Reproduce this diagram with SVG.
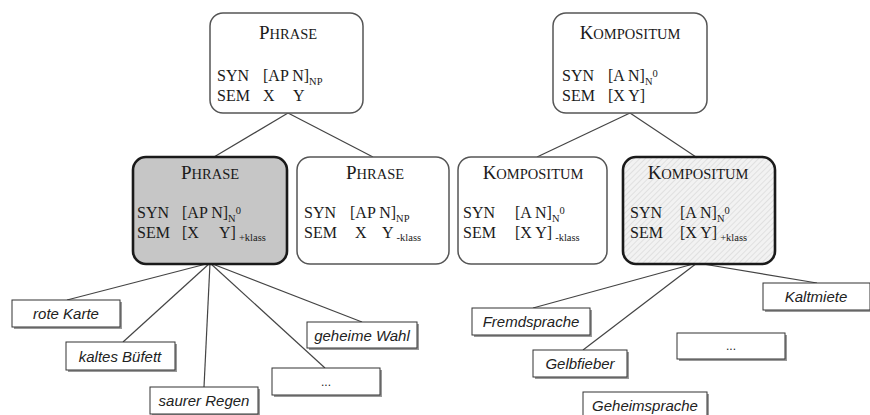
<svg xmlns="http://www.w3.org/2000/svg" width="870" height="415" viewBox="0 0 870 415">
  <style>
    .box { fill: #ffffff; stroke: #555555; stroke-width: 1.5; }
    .boxhl { stroke: #1a1a1a; stroke-width: 2.6; }
    .leaf { fill: #ffffff; stroke: #333333; stroke-width: 1; }
    .shadow { fill: #9a9a9a; }
    .t { font-family: "Liberation Serif", "Times New Roman", serif; font-size: 16px; fill: #1a1a1a; }
    .cap { font-size: 19px; }
    .sc { font-size: 14.5px; }
    .sub { font-size: 10.5px; }
    .ttl { text-anchor: middle; }
    .lt { font-family: "Liberation Sans", Arial, sans-serif; font-style: italic; font-size: 15px; fill: #222222; text-anchor: middle; }
    .dots { font-style: normal; font-size: 12px; }
    .conn { stroke: #444444; stroke-width: 1.2; fill: none; }
  </style>
  <defs>
    <pattern id="hatch" width="4" height="4" patternUnits="userSpaceOnUse" patternTransform="rotate(45)">
      <rect width="4" height="4" fill="#f2f2f2"/>
      <line x1="0" y1="0" x2="0" y2="4" stroke="#d4d4d4" stroke-width="1.2"/>
    </pattern>
  </defs>

  <g id="connectors">
    <line class="conn" x1="288" y1="113" x2="214" y2="157"/>
    <line class="conn" x1="288" y1="113" x2="373" y2="157"/>
    <line class="conn" x1="630" y1="113" x2="537" y2="157"/>
    <line class="conn" x1="630" y1="113" x2="696" y2="157"/>
    <line class="conn" x1="210" y1="263" x2="67" y2="300"/>
    <line class="conn" x1="210" y1="263" x2="123" y2="342"/>
    <line class="conn" x1="210" y1="263" x2="204" y2="387"/>
    <line class="conn" x1="210" y1="263" x2="325" y2="368"/>
    <line class="conn" x1="210" y1="263" x2="362" y2="322"/>
    <line class="conn" x1="697" y1="263" x2="533" y2="308"/>
    <line class="conn" x1="697" y1="263" x2="583" y2="350"/>
    <line class="conn" x1="697" y1="263" x2="817" y2="283"/>
  </g>

  <!-- top row -->
  <g id="phrase-top">
    <rect class="box" x="210" y="13" width="153" height="100" rx="13"/>
    <text class="t ttl" x="288" y="39"><tspan class="cap">P</tspan><tspan class="sc">HRASE</tspan></text>
    <text class="t" x="217" y="81">SYN</text>
    <text class="t" x="263" y="81">[AP N]<tspan class="sub" dy="4">NP</tspan></text>
    <text class="t" x="217" y="101">SEM</text>
    <text class="t" x="263" y="101">X</text>
    <text class="t" x="293" y="101">Y</text>
  </g>

  <g id="kompositum-top">
    <rect class="box" x="553" y="13" width="154" height="100" rx="13"/>
    <text class="t ttl" x="630" y="39"><tspan class="cap">K</tspan><tspan class="sc">OMPOSITUM</tspan></text>
    <text class="t" x="562" y="81">SYN</text>
    <text class="t" x="608" y="81">[A N]<tspan class="sub" dy="4">N</tspan><tspan class="sub" dy="-8">0</tspan></text>
    <text class="t" x="562" y="101">SEM</text>
    <text class="t" x="608" y="101">[X Y]</text>
  </g>

  <!-- middle row -->
  <g id="phrase-n0">
    <rect class="box boxhl" x="133" y="157" width="154" height="107" rx="13" style="fill:#c6c6c6"/>
    <text class="t ttl" x="210" y="179"><tspan class="cap">P</tspan><tspan class="sc">HRASE</tspan></text>
    <text class="t" x="137" y="218">SYN</text>
    <text class="t" x="182" y="218">[AP N]<tspan class="sub" dy="4">N</tspan><tspan class="sub" dy="-8">0</tspan></text>
    <text class="t" x="137" y="238">SEM</text>
    <text class="t" x="182" y="238">[X</text>
    <text class="t" x="219" y="238">Y]<tspan class="sub" dx="3" dy="3">+klass</tspan></text>
  </g>

  <g id="phrase-np">
    <rect class="box" x="297" y="157" width="152" height="107" rx="13"/>
    <text class="t ttl" x="375" y="179"><tspan class="cap">P</tspan><tspan class="sc">HRASE</tspan></text>
    <text class="t" x="304" y="218">SYN</text>
    <text class="t" x="350" y="218">[AP N]<tspan class="sub" dy="4">NP</tspan></text>
    <text class="t" x="304" y="238">SEM</text>
    <text class="t" x="355" y="238">X</text>
    <text class="t" x="382" y="238">Y<tspan class="sub" dx="3" dy="3">-klass</tspan></text>
  </g>

  <g id="kompositum-minus">
    <rect class="box" x="458" y="157" width="149" height="107" rx="13"/>
    <text class="t ttl" x="533" y="179"><tspan class="cap">K</tspan><tspan class="sc">OMPOSITUM</tspan></text>
    <text class="t" x="463" y="218">SYN</text>
    <text class="t" x="515" y="218">[A N]<tspan class="sub" dy="4">N</tspan><tspan class="sub" dy="-8">0</tspan></text>
    <text class="t" x="463" y="238">SEM</text>
    <text class="t" x="515" y="238">[X Y]<tspan class="sub" dx="3" dy="3">-klass</tspan></text>
  </g>

  <g id="kompositum-plus">
    <rect class="box boxhl" x="623" y="157" width="152" height="107" rx="13" style="fill:url(#hatch)"/>
    <text class="t ttl" x="698" y="179"><tspan class="cap">K</tspan><tspan class="sc">OMPOSITUM</tspan></text>
    <text class="t" x="630" y="218">SYN</text>
    <text class="t" x="680" y="218">[A N]<tspan class="sub" dy="4">N</tspan><tspan class="sub" dy="-8">0</tspan></text>
    <text class="t" x="630" y="238">SEM</text>
    <text class="t" x="680" y="238">[X Y]<tspan class="sub" dx="3" dy="3">+klass</tspan></text>
  </g>

  <!-- leaves, left -->
  <g id="leaf-rote-karte">
    <rect class="shadow" x="14" y="302" width="108" height="27"/>
    <rect class="leaf" x="12" y="300" width="108" height="27"/>
    <text class="lt" x="66" y="319">rote Karte</text>
  </g>
  <g id="leaf-kaltes-bufett">
    <rect class="shadow" x="68" y="344" width="109" height="28"/>
    <rect class="leaf" x="66" y="342" width="109" height="28"/>
    <text class="lt" x="120" y="362">kaltes Büfett</text>
  </g>
  <g id="leaf-saurer-regen">
    <rect class="shadow" x="152" y="389" width="108" height="27"/>
    <rect class="leaf" x="150" y="387" width="108" height="27"/>
    <text class="lt" x="204" y="406">saurer Regen</text>
  </g>
  <g id="leaf-dots-left">
    <rect class="shadow" x="274" y="370" width="108" height="27"/>
    <rect class="leaf" x="272" y="368" width="108" height="27"/>
    <text class="lt dots" x="326" y="386">...</text>
  </g>
  <g id="leaf-geheime-wahl">
    <rect class="shadow" x="309" y="324" width="110" height="26"/>
    <rect class="leaf" x="307" y="322" width="110" height="26"/>
    <text class="lt" x="362" y="341">geheime Wahl</text>
  </g>

  <!-- leaves, right -->
  <g id="leaf-fremdsprache">
    <rect class="shadow" x="474" y="310" width="118" height="27"/>
    <rect class="leaf" x="472" y="308" width="118" height="27"/>
    <text class="lt" x="531" y="327">Fremdsprache</text>
  </g>
  <g id="leaf-gelbfieber">
    <rect class="shadow" x="535" y="352" width="94" height="27"/>
    <rect class="leaf" x="533" y="350" width="94" height="27"/>
    <text class="lt" x="580" y="369">Gelbfieber</text>
  </g>
  <g id="leaf-geheimsprache">
    <rect class="shadow" x="585" y="394" width="124" height="27"/>
    <rect class="leaf" x="583" y="392" width="124" height="27"/>
    <text class="lt" x="645" y="411">Geheimsprache</text>
  </g>
  <g id="leaf-dots-right">
    <rect class="shadow" x="679" y="335" width="108" height="26"/>
    <rect class="leaf" x="677" y="333" width="108" height="26"/>
    <text class="lt dots" x="731" y="350">...</text>
  </g>
  <g id="leaf-kaltmiete">
    <rect class="shadow" x="765" y="285" width="107" height="27"/>
    <rect class="leaf" x="763" y="283" width="107" height="27"/>
    <text class="lt" x="816" y="302">Kaltmiete</text>
  </g>
</svg>
